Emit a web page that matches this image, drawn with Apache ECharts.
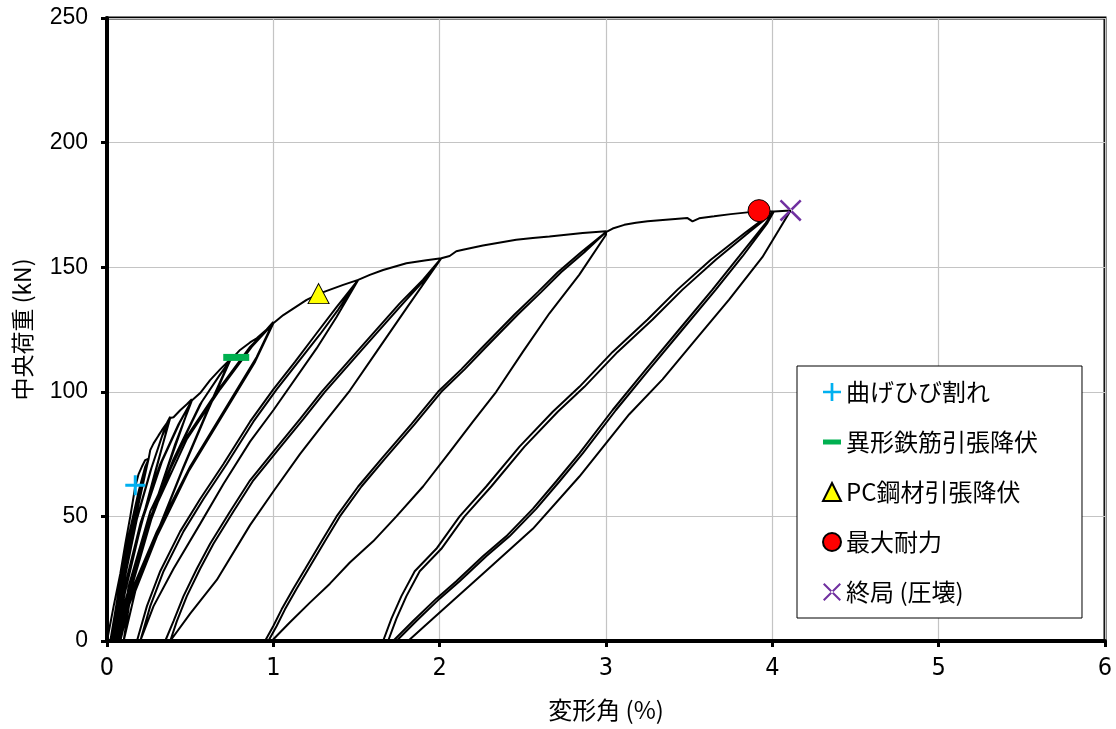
<!DOCTYPE html>
<html>
<head>
<meta charset="utf-8">
<script src="https://cdn.jsdelivr.net/npm/echarts@6.0.0/dist/echarts.min.js"></script>
<style>
html, body { margin: 0; padding: 0; background: #fff; }
#loadCurve { width: 1116px; height: 729px; }
</style>
</head>
<body>
<div id="loadCurve"></div>
<script>
// 変形角 (%) , 中央荷重 (kN)
// skeleton = envelope pieces, cN = cycles (Down = unloading, Up = reloading)
const skeleton0 = [[0, 0], [0.04, 14], [0.08, 27], [0.11, 39], [0.14, 50], [0.17, 62], [0.19, 67], [0.21, 70], [0.23, 72.6], [0.25, 73.2]]
const c1Down = [[0.25, 73.2], [0.2, 58], [0.14, 40], [0.08, 20], [0.02, 0]]
const c1Up = [[0.02, 0], [0.07, 20], [0.13, 42], [0.19, 60], [0.23, 70], [0.25, 73]]
const c1Down2 = [[0.25, 73], [0.19, 56], [0.13, 38], [0.07, 18], [0.025, 0]]
const c1Up2 = [[0.025, 0], [0.08, 21], [0.14, 44], [0.2, 62], [0.24, 71], [0.25, 73]]
const skeleton1 = [[0.25, 73], [0.26, 76.6], [0.28, 79.3], [0.31, 82.5], [0.33, 84.6], [0.36, 87.5], [0.38, 90]]
const c2Down = [[0.38, 90], [0.3, 70], [0.2, 45], [0.11, 22], [0.03, 0]]
const c2Up = [[0.03, 0], [0.09, 22], [0.17, 47], [0.26, 68], [0.33, 82], [0.38, 89.5]]
const c2Down2 = [[0.38, 89.5], [0.29, 68], [0.19, 43], [0.1, 20], [0.035, 0]]
const c2Up2 = [[0.035, 0], [0.1, 23], [0.18, 49], [0.27, 70], [0.34, 84], [0.38, 89.5]]
const skeleton2 = [[0.38, 89.5], [0.4, 89.8], [0.44, 92.6], [0.48, 95], [0.51, 97]]
const c3Down = [[0.51, 97], [0.42, 80], [0.3, 57], [0.17, 30], [0.04, 0]]
const c3Up = [[0.04, 0], [0.1, 20], [0.2, 47], [0.32, 71], [0.43, 87], [0.51, 96.5]]
const c3Down2 = [[0.51, 96.5], [0.41, 79], [0.29, 55], [0.16, 28], [0.05, 0]]
const c3Up2 = [[0.05, 0], [0.11, 20], [0.21, 48], [0.33, 72], [0.44, 88], [0.51, 96.5]]
const skeleton3 = [[0.51, 96.5], [0.56, 99.5], [0.62, 104.7], [0.68, 109], [0.74, 113]]
const c4Down = [[0.74, 113], [0.62, 95], [0.46, 70], [0.28, 40], [0.13, 16], [0.06, 0]]
const c4Up = [[0.06, 0], [0.12, 18], [0.24, 46], [0.4, 73], [0.56, 95], [0.67, 106], [0.74, 112.5]]
const c4Down2 = [[0.74, 112.5], [0.61, 93], [0.45, 68], [0.27, 38], [0.13, 14], [0.07, 0]]
const c4Up2 = [[0.07, 0], [0.13, 18], [0.25, 46], [0.41, 74], [0.57, 96], [0.68, 107], [0.74, 112.5]]
const skeleton4 = [[0.74, 112.5], [0.8, 116.8], [0.86, 119.8], [0.9, 121.5], [0.96, 125], [1.0, 128]]
const c5Down = [[1.0, 128], [0.9, 114], [0.7, 92], [0.5, 70], [0.3, 44], [0.16, 22], [0.08, 0]]
const c5Up = [[0.07, 0], [0.13, 22], [0.26, 52], [0.46, 80], [0.66, 100], [0.86, 118], [1.0, 127.5]]
const c5Down2 = [[1.0, 127.5], [0.89, 112], [0.69, 90], [0.49, 68], [0.3, 42], [0.17, 20], [0.1, 0]]
const c5Up2 = [[0.09, 0], [0.15, 22], [0.28, 52], [0.48, 81], [0.68, 101], [0.87, 118], [1.0, 127.5]]
const skeleton5 = [[1.0, 127.5], [1.06, 130.8], [1.2, 136.9], [1.28, 139.5], [1.42, 142.9], [1.51, 144.9]]
const c6Down = [[1.51, 144.5], [1.38, 130], [1.26, 117.4], [1.0, 92.6], [0.86, 80], [0.7, 63], [0.56, 47], [0.4, 29], [0.28, 14], [0.2, 0]]
const c6UpA = [[0.18, 0], [0.24, 14], [0.32, 28], [0.44, 44], [0.56, 57], [0.7, 71], [0.86, 88], [1.0, 101], [1.13, 112], [1.26, 123.5], [1.38, 134], [1.51, 144.9]]
const c6UpB = [[0.2, 0], [0.26, 14], [0.34, 28], [0.46, 44], [0.58, 57], [0.72, 71], [0.88, 88], [1.02, 101], [1.15, 112], [1.28, 123], [1.39, 133], [1.51, 144.9]]
const skeleton6 = [[1.51, 144.9], [1.58, 146.9], [1.66, 148.9], [1.8, 151.6], [1.92, 152.8], [2.01, 153.6]]
const c7Down = [[2.01, 153], [1.8, 133.5], [1.62, 116], [1.46, 100.5], [1.3, 87], [1.16, 75], [1.0, 60], [0.86, 46.5], [0.66, 24.5], [0.5, 11], [0.38, 0]]
const c7UpA = [[0.35, 0], [0.4, 8], [0.46, 18], [0.54, 29], [0.62, 39], [0.74, 52], [0.86, 64.5], [1.0, 76], [1.16, 89], [1.29, 100], [1.52, 117.4], [1.76, 135.5], [1.9, 145], [2.01, 153.6]]
const c7UpB = [[0.37, 0], [0.42, 8], [0.48, 18], [0.56, 29], [0.64, 39], [0.76, 52], [0.88, 64.5], [1.02, 76], [1.18, 89], [1.31, 100], [1.54, 117.4], [1.78, 135.5], [1.91, 145], [2.01, 153.6]]
const skeleton7 = [[2.01, 153.6], [2.06, 154.5], [2.1, 156.4], [2.14, 157], [2.26, 158.7], [2.46, 161], [2.56, 161.7], [2.66, 162.3], [2.86, 163.7], [3.0, 164.4]]
const c8Down = [[3.0, 163], [2.84, 147], [2.66, 131.5], [2.5, 116], [2.34, 100], [2.2, 88], [2.06, 75.8], [1.9, 62], [1.74, 50], [1.6, 40], [1.46, 31.5], [1.34, 23], [1.22, 15.4], [1.1, 7.5], [0.99, 0]]
const c8UpA = [[0.95, 0], [1.0, 6], [1.05, 12.7], [1.12, 21], [1.19, 28.8], [1.29, 40], [1.38, 50], [1.51, 62], [1.65, 73.1], [1.83, 87], [1.99, 100], [2.13, 109], [2.25, 117.4], [2.45, 131], [2.59, 140], [2.71, 148], [2.85, 156], [3.0, 164.1]]
const c8UpB = [[0.97, 0], [1.02, 6], [1.07, 12.7], [1.14, 21], [1.21, 28.8], [1.31, 40], [1.4, 50], [1.53, 62], [1.67, 73.1], [1.85, 87], [2.01, 100], [2.15, 109], [2.27, 117.4], [2.47, 131], [2.61, 140], [2.73, 148], [2.87, 156], [3.0, 164.1]]
const skeleton8 = [[3.0, 164.4], [3.04, 165.5], [3.11, 167], [3.18, 167.8], [3.25, 168.4], [3.36, 169], [3.49, 169.7], [3.52, 168.4], [3.56, 169.6], [3.65, 170.4], [3.75, 171.3], [3.85, 172], [3.93, 172.5], [4.01, 172.4]]
const c9DownA = [[4.01, 172], [3.96, 167.7], [3.8, 154.3], [3.64, 141], [3.44, 125], [3.24, 109], [3.04, 92.7], [2.84, 75.3], [2.7, 64], [2.56, 53], [2.4, 42], [2.26, 34], [2.1, 24], [1.98, 17], [1.84, 8], [1.72, 0]]
const c9UpA = [[1.66, 0], [1.71, 9], [1.77, 18], [1.85, 28], [1.98, 37], [2.12, 50], [2.28, 62], [2.48, 78], [2.68, 92], [2.84, 102], [3.04, 116], [3.25, 129], [3.43, 141], [3.63, 153], [3.84, 164], [3.96, 170], [4.01, 172.4]]
const c9DownB = [[4.01, 172], [3.97, 167.7], [3.82, 154.3], [3.66, 141], [3.46, 125], [3.26, 109], [3.06, 92.7], [2.86, 75.3], [2.72, 64], [2.58, 53], [2.42, 42], [2.28, 34], [2.12, 24], [2.0, 17], [1.86, 8], [1.74, 0]]
const c9UpB = [[1.69, 0], [1.74, 9], [1.8, 18], [1.88, 28], [2.01, 37], [2.15, 50], [2.31, 62], [2.51, 78], [2.71, 92], [2.87, 102], [3.07, 116], [3.28, 129], [3.46, 141], [3.66, 153], [3.86, 164], [3.97, 170], [4.01, 172.4]]
const skeleton9 = [[4.01, 172.4], [4.06, 172.6], [4.11, 172.8]]
const c10Down = [[4.11, 172.5], [4.04, 165], [3.94, 154], [3.74, 137], [3.54, 121], [3.34, 105], [3.14, 91], [2.84, 66], [2.56, 45], [2.26, 27], [1.96, 9], [1.81, 0]]

// events
const crackPt = [[0.17, 62.5]]
const rebarYieldPt = [[0.777, 113.8]]
const pcYieldPt = [[1.272, 139.4]]
const maxLoadPt = [[3.92, 172.7]]
const ultimatePt = [[4.11, 172.8]]

const eventNames = ['曲げひび割れ', '異形鉄筋引張降伏', 'PC鋼材引張降伏', '最大耐力', '終局 (圧壊)']

const hysteresis = [].concat(
  skeleton0, c1Down, c1Up, c1Down2, c1Up2, skeleton1,
  c2Down, c2Up, c2Down2, c2Up2, skeleton2,
  c3Down, c3Up, c3Down2, c3Up2, skeleton3,
  c4Down, c4Up, c4Down2, c4Up2, skeleton4,
  c5Down, c5Up, c5Down2, c5Up2, skeleton5,
  c6Down, c6UpA, c6Down, c6UpB, skeleton6,
  c7Down, c7UpA, c7Down, c7UpB, skeleton7,
  c8Down, c8UpA, c8Down, c8UpB, skeleton8,
  c9DownA, c9UpA, c9DownB, c9UpB, skeleton9, c10Down
)

// marker shapes (+ and x drawn as filled bars)
const plusPath = 'path://M0,8.5H20V11.5H0Z M8.5,0H11.5V20H8.5Z'
const crossPath = 'path://M0,1.6L1.6,0L20,18.4L18.4,20Z M20,1.6L18.4,0L0,18.4L1.6,20Z'

const chart = echarts.init(document.getElementById('loadCurve'))
chart.setOption({
  animation: false,
  backgroundColor: '#fff',
  grid: {
    left: 107,
    right: 11,
    top: 18,
    bottom: 88,
    show: true,
    borderColor: '#000',
    borderWidth: 3,
    outerBoundsMode: 'none'
  },
  legend: {
    orient: 'vertical',
    left: 797,
    top: 366,
    backgroundColor: '#fff',
    borderColor: '#000',
    borderWidth: 1,
    padding: [14, 44, 14, 25],
    itemGap: 26,
    itemWidth: 18,
    itemHeight: 18,
    symbolKeepAspect: true,
    selectedMode: false,
    textStyle: {
      color: '#000',
      fontSize: 24,
      lineHeight: 24,
      fontFamily: 'Noto Sans CJK JP'
    },
    data: [
      { name: eventNames[0], icon: plusPath },
      { name: eventNames[1], icon: 'path://M0,0H18V5H0Z' },
      { name: eventNames[2] },
      { name: eventNames[3] },
      { name: eventNames[4], icon: crossPath }
    ]
  },
  xAxis: {
    type: 'value',
    min: 0,
    max: 6,
    interval: 1,
    name: '変形角 (%)',
    nameLocation: 'middle',
    nameGap: 57,
    nameTextStyle: { color: '#000', fontSize: 24, fontFamily: 'Noto Sans CJK JP' },
    axisLine: { show: true, onZero: false, lineStyle: { color: '#000', width: 4 } },
    axisTick: { show: true, inside: false, length: 6, lineStyle: { color: '#000', width: 3 } },
    axisLabel: {
      color: '#000',
      fontSize: 25,
      margin: 15,
      fontFamily: "'Liberation Sans Narrow', 'DejaVu Sans Condensed', sans-serif"
    },
    splitLine: { show: true, lineStyle: { color: '#c4c4c4', width: 1.2 } }
  },
  yAxis: {
    type: 'value',
    min: 0,
    max: 250,
    interval: 50,
    name: '中央荷重 (kN)',
    nameLocation: 'middle',
    nameGap: 73,
    nameRotate: 90,
    nameTextStyle: { color: '#000', fontSize: 23, fontFamily: 'Noto Sans CJK JP' },
    axisLine: { show: true, onZero: false, lineStyle: { color: '#000', width: 4 } },
    axisTick: { show: true, inside: false, length: 6, lineStyle: { color: '#000', width: 3 } },
    axisLabel: {
      color: '#000',
      fontSize: 23,
      margin: 19,
      fontFamily: "'Liberation Sans', Arial, sans-serif"
    },
    splitLine: { show: true, lineStyle: { color: '#c4c4c4', width: 1.2 } }
  },
  series: [
    {
      type: 'line',
      data: hysteresis,
      symbol: 'none',
      showSymbol: false,
      silent: true,
      z: 3,
      lineStyle: { color: '#000', width: 2 }
    },
    {
      name: eventNames[0],
      type: 'scatter',
      data: crackPt,
      symbol: plusPath,
      symbolSize: 20,
      z: 6,
      itemStyle: { color: '#00B0F0', opacity: 1 }
    },
    {
      name: eventNames[1],
      type: 'scatter',
      data: rebarYieldPt,
      symbol: 'rect',
      symbolSize: [26, 7],
      z: 6,
      itemStyle: { color: '#00B050', opacity: 1 }
    },
    {
      name: eventNames[2],
      type: 'scatter',
      data: pcYieldPt,
      symbol: 'triangle',
      symbolSize: [21, 20],
      z: 6,
      itemStyle: { color: '#FFFF00', borderColor: '#000', borderWidth: 1, opacity: 1 }
    },
    {
      name: eventNames[3],
      type: 'scatter',
      data: maxLoadPt,
      symbol: 'circle',
      symbolSize: 22,
      z: 6,
      itemStyle: { color: '#FF0000', borderColor: '#000', borderWidth: 1, opacity: 1 }
    },
    {
      name: eventNames[4],
      type: 'scatter',
      data: ultimatePt,
      symbol: crossPath,
      symbolSize: 22,
      z: 6,
      itemStyle: { color: '#7030A0', opacity: 1 }
    }
  ]
})
</script>
</body>
</html>
